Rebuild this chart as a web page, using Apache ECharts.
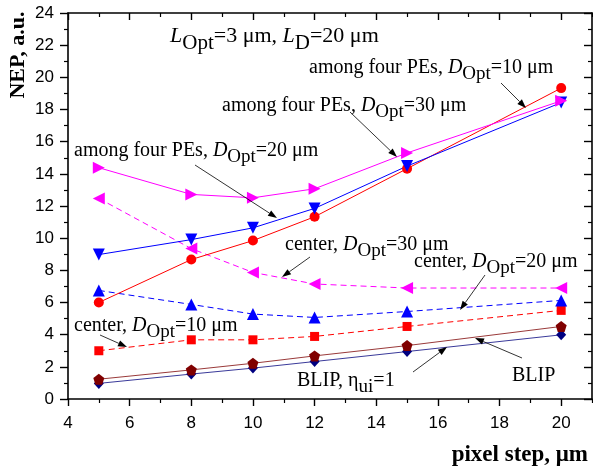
<!DOCTYPE html>
<html>
<head>
<meta charset="utf-8">
<script src="https://cdn.jsdelivr.net/npm/echarts@6/dist/echarts.min.js"></script>
<style>html,body{margin:0;padding:0;background:#fff;}#c{width:593px;height:470px;}</style>
</head>
<body>
<div id="c"></div>
<script>
const xs = [5, 8, 10, 12, 15, 20];
const among10 = [6.0, 8.67, 9.85, 11.33, 14.32, 19.33];
const among30 = [8.98, 9.91, 10.64, 11.85, 14.48, 18.43];
const among20 = [14.38, 12.72, 12.51, 13.07, 15.3, 18.54];
const center30 = [12.47, 9.35, 7.87, 7.15, 6.9, 6.9];
const center20 = [6.75, 5.88, 5.28, 5.07, 5.44, 6.13];
const center10 = [3.0, 3.68, 3.68, 3.89, 4.51, 5.51];
const blip = [1.23, 1.81, 2.22, 2.68, 3.32, 4.51];
const blipEta = [0.97, 1.55, 1.92, 2.33, 2.95, 3.99];
const xMajor = [4, 6, 8, 10, 12, 14, 16, 18, 20];
const xMinor = [5, 7, 9, 11, 13, 15, 17, 19, 21];

const pentagon = 'path://M0,-10 L9.51,-3.09 L5.88,8.09 L-5.88,8.09 L-9.51,-3.09 Z';
const serif = 'Liberation Serif';
const sans = 'Liberation Sans';

function pts(ys) { return xs.map((x, i) => [x, ys[i]]); }

function ser(name, ys, color, lineColor, symbol, size, rot, dashed) {
  return {
    name: name, type: 'line', data: pts(ys), xAxisIndex: 0, yAxisIndex: 0,
    symbol: symbol, symbolSize: size, symbolRotate: rot, showSymbol: true,
    itemStyle: { color: color, borderWidth: 0 },
    lineStyle: { color: lineColor, width: 1, type: dashed ? [6, 4] : 'solid' },
    emphasis: { disabled: true }, animation: false, z: 3
  };
}

const rich = {
  m: { fontFamily: serif, fontSize: 20, verticalAlign: 'top', color: '#000' },
  i: { fontFamily: serif, fontSize: 20, fontStyle: 'italic', verticalAlign: 'top', color: '#000' },
  s: { fontFamily: serif, fontSize: 19, verticalAlign: 'top', padding: [7, 0, 0, 0], color: '#000' },
  M: { fontFamily: serif, fontSize: 22, verticalAlign: 'top', color: '#000' },
  I: { fontFamily: serif, fontSize: 22, fontStyle: 'italic', verticalAlign: 'top', color: '#000' },
  S: { fontFamily: serif, fontSize: 21, verticalAlign: 'top', padding: [8, 0, 0, 0], color: '#000' }
};

function ann(x, yc, text, big) {
  return { type: 'text', x: x, y: yc - (big ? 12 : 11), z: 10, silent: true,
    style: { x: 0, y: 0, text: text, rich: rich, align: 'left', verticalAlign: 'top' } };
}
function arrow(x1, y1, x2, y2) {
  const dx = x2 - x1, dy = y2 - y1, L = Math.sqrt(dx * dx + dy * dy);
  const ux = dx / L, uy = dy / L, hl = 9, hw = 3.2;
  const bx = x2 - ux * hl, by = y2 - uy * hl;
  return [
    { type: 'line', z: 9, silent: true, shape: { x1: x1, y1: y1, x2: bx, y2: by }, style: { stroke: '#000', lineWidth: 0.8 } },
    { type: 'polygon', z: 9, silent: true, shape: { points: [[x2, y2], [bx - uy * hw, by + ux * hw], [bx + uy * hw, by - ux * hw]] }, style: { fill: '#000' } }
  ];
}

const baseX = { type: 'value', min: 4, max: 21, gridIndex: 0, splitLine: { show: false } };
const baseY = { type: 'value', min: 0, max: 24, interval: 2, gridIndex: 0, splitLine: { show: false } };

const option = {
  backgroundColor: '#fff',
  animation: false,
  grid: { left: 68, right: 1, top: 13, bottom: 71, containLabel: false },
  xAxis: [
    Object.assign({}, baseX, { position: 'bottom',
      axisLine: { show: true, onZero: false, lineStyle: { color: '#000', width: 1.6 } },
      axisTick: { show: true, inside: false, length: 7, customValues: xMajor, lineStyle: { color: '#000', width: 1.4 } },
      axisLabel: { show: true, customValues: xMajor, margin: 16, fontFamily: sans, fontSize: 17, color: '#000' } }),
    Object.assign({}, baseX, { position: 'bottom',
      axisLine: { show: false, onZero: false },
      axisTick: { show: true, inside: false, length: 4, customValues: xMinor, lineStyle: { color: '#000', width: 1.2 } },
      axisLabel: { show: false } }),
    Object.assign({}, baseX, { position: 'top',
      axisLine: { show: true, onZero: false, lineStyle: { color: '#000', width: 1.6 } },
      axisTick: { show: true, inside: true, length: 7, customValues: xMajor, lineStyle: { color: '#000', width: 1.4 } },
      axisLabel: { show: false } }),
    Object.assign({}, baseX, { position: 'top',
      axisLine: { show: false, onZero: false },
      axisTick: { show: true, inside: true, length: 4, customValues: xMinor, lineStyle: { color: '#000', width: 1.2 } },
      axisLabel: { show: false } })
  ],
  yAxis: [
    Object.assign({}, baseY, { position: 'left',
      axisLine: { show: true, onZero: false, lineStyle: { color: '#000', width: 1.6 } },
      axisTick: { show: true, inside: false, length: 8, lineStyle: { color: '#000', width: 1.4 } },
      minorTick: { show: true, splitNumber: 2, length: 4, lineStyle: { color: '#000', width: 1.2 } },
      axisLabel: { show: true, margin: 14, fontFamily: sans, fontSize: 17, color: '#000' } }),
    Object.assign({}, baseY, { position: 'right',
      axisLine: { show: true, onZero: false, lineStyle: { color: '#000', width: 1.6 } },
      axisTick: { show: true, inside: true, length: 8, lineStyle: { color: '#000', width: 1.4 } },
      minorTick: { show: true, splitNumber: 2, length: 4, lineStyle: { color: '#000', width: 1.2 } },
      axisLabel: { show: false } })
  ],
  series: [
    ser('BLIP, ηui=1', blipEta, '#000080', '#3a3a9a', 'diamond', [10, 11], 0, false),
    ser('BLIP', blip, '#800000', '#9a3a3a', pentagon, 11, 0, false),
    ser('center, DOpt=10 μm', center10, '#ff0000', '#ff0000', 'rect', 9, 0, true),
    ser('center, DOpt=20 μm', center20, '#0000ff', '#0000ff', 'triangle', 12, 0, true),
    ser('center, DOpt=30 μm', center30, '#ff00ff', '#ff00ff', 'triangle', 12, 90, true),
    ser('among four PEs, DOpt=10 μm', among10, '#ff0000', '#ff0000', 'circle', 10, 0, false),
    ser('among four PEs, DOpt=30 μm', among30, '#0000ff', '#0000ff', 'triangle', 12, 180, false),
    ser('among four PEs, DOpt=20 μm', among20, '#ff00ff', '#ff00ff', 'triangle', 12, -90, false)
  ],
  graphic: [].concat(
    [ann(170, 37, '{I|L}{S|Opt}{M|=3 μm, }{I|L}{S|D}{M|=20 μm}', true),
     ann(309, 69, '{m|among four PEs, }{i|D}{s|Opt}{m|=10 μm}'),
     ann(222, 107, '{m|among four PEs, }{i|D}{s|Opt}{m|=30 μm}'),
     ann(74, 152, '{m|among four PEs, }{i|D}{s|Opt}{m|=20 μm}'),
     ann(285, 246, '{m|center, }{i|D}{s|Opt}{m|=30 μm}'),
     ann(414, 263, '{m|center, }{i|D}{s|Opt}{m|=20 μm}'),
     ann(74, 327, '{m|center, }{i|D}{s|Opt}{m|=10 μm}'),
     ann(297, 382, '{m|BLIP, η}{s|ui}{m|=1}'),
     ann(512, 377, '{m|BLIP}'),
     { type: 'text', x: 18, y: 55, rotation: Math.PI / 2, silent: true,
       style: { x: 0, y: 0, text: 'NEP, a.u.', font: 'bold 22px "Liberation Serif"', fill: '#000', align: 'center', verticalAlign: 'middle' } },
     { type: 'text', x: 588, y: 455, silent: true,
       style: { x: 0, y: 0, text: 'pixel step, μm', font: 'bold 23px "Liberation Serif"', fill: '#000', align: 'right', verticalAlign: 'middle' } }
    ],
    arrow(501, 83, 526, 108),
    arrow(350, 112, 397, 157),
    arrow(195, 165, 277, 218),
    arrow(310, 257, 282, 277),
    arrow(485, 275, 460, 310),
    arrow(100, 335, 127, 347),
    arrow(413, 372, 447, 347),
    arrow(522, 358, 475, 338)
  )
};

const chart = echarts.init(document.getElementById('c'), null, { renderer: 'canvas' });
chart.setOption(option);
</script>
</body>
</html>
